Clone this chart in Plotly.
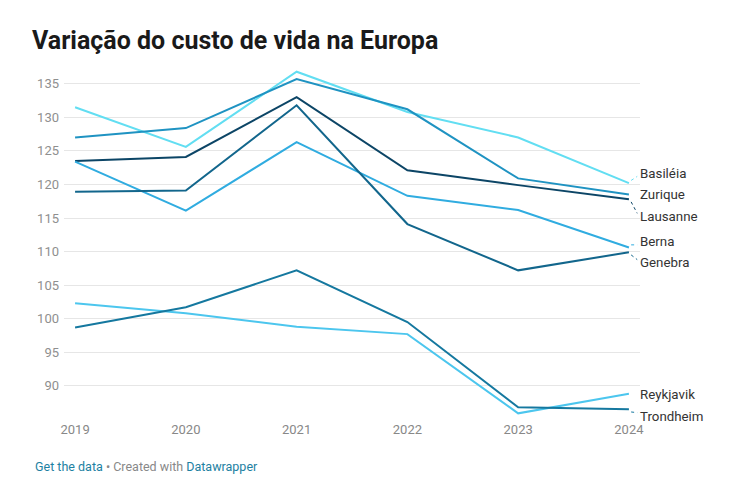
import plotly.graph_objects as go

years = [2019, 2020, 2021, 2022, 2023, 2024]

basileia = [131.5, 125.6, 136.8, 130.8, 127.0, 120.2]
zurique = [127.0, 128.4, 135.7, 131.2, 120.9, 118.5]
lausanne = [123.5, 124.1, 133.0, 122.1, 119.9, 117.8]
genebra = [118.9, 119.1, 131.8, 114.1, 107.2, 109.9]
berna = [123.4, 116.1, 126.3, 118.3, 116.2, 110.6]
trondheim = [98.7, 101.7, 107.2, 99.5, 86.8, 86.5]
reykjavik = [102.3, 100.8, 98.8, 97.7, 85.9, 88.8]

names = ["Basiléia", "Zurique", "Lausanne", "Berna", "Genebra", "Reykjavik", "Trondheim"]
series = [basileia, zurique, lausanne, berna, genebra, reykjavik, trondheim]
colors = ["#62def2", "#1f93c2", "#0c4566", "#30ace0", "#12668c", "#4cc6ee", "#15789f"]
# label vertical placement (in axis units) to avoid overlaps
label_pos = [121.7, 118.5, 115.2, 111.5, 108.3, 88.7, 85.5]

fig = go.Figure()
for n, s, c in zip(names, series, colors):
    fig.add_trace(go.Scatter(x=years, y=s, mode="lines", name=n,
                             line=dict(color=c, width=2), hoverinfo="skip"))

annotations = []
shapes = []
for n, s, c, lp in zip(names, series, colors, label_pos):
    annotations.append(dict(x=years[-1], y=lp, xref="x", yref="y", text=n,
                            showarrow=False, xanchor="left", yanchor="middle",
                            xshift=9, font=dict(family="Roboto", size=13.3, color="#333333")))
    if abs(lp - s[-1]) > 0.6:
        shapes.append(dict(type="line", xref="x", yref="y",
                           x0=years[-1] + 0.02, y0=s[-1] + (0.4 if lp > s[-1] else -0.4),
                           x1=years[-1] + 0.075, y1=lp + (-0.5 if lp > s[-1] else 0.5),
                           line=dict(color=c, width=1, dash="dot")))

fig.update_layout(
    width=750, height=500,
    paper_bgcolor="white", plot_bgcolor="white",
    margin=dict(l=64, r=110, t=67, b=84),
    showlegend=False,
    font=dict(family="Roboto", color="#888888", size=13),
    title=dict(text="<b>Variação do custo de vida na Europa</b>",
               x=32/750, xanchor="left", y=1 - 40/500, yanchor="middle",
               font=dict(family="Roboto", size=25, color="#1a1a1a")),
    xaxis=dict(range=[2018.9, 2024.1], tickvals=years, ticktext=[str(y) for y in years],
               showgrid=False, zeroline=False, showline=False, ticks="",
               ticklabelstandoff=4,
               tickfont=dict(family="Roboto", size=13, color="#888888")),
    yaxis=dict(range=[85.5, 137.5], tickvals=[90, 95, 100, 105, 110, 115, 120, 125, 130, 135],
               showgrid=True, gridcolor="#e6e6e6", gridwidth=1, zeroline=False,
               showline=False, ticks="", ticklabelstandoff=4,
               tickfont=dict(family="Roboto", size=13, color="#8f8f8f")),
    annotations=annotations + [
        dict(x=(33 - 64) / 576, y=(416 - 466) / 349, xref="paper", yref="paper", xanchor="left",
             yanchor="middle", showarrow=False,
             text="<span style='color:#1d81a2'>Get the data</span>"
                  "<span style='color:#888888'> • Created with </span>"
                  "<span style='color:#1d81a2'>Datawrapper</span>",
             font=dict(family="Roboto", size=12.5))
    ],
    shapes=shapes,
)

fig.write_html("out.html")
